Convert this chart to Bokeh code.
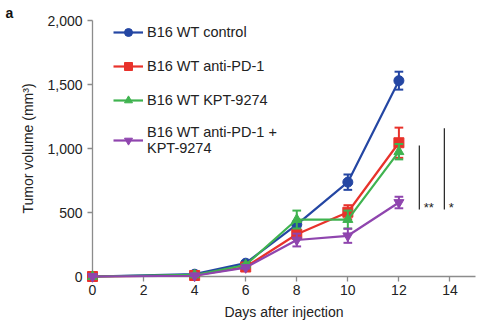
from bokeh.plotting import figure
from bokeh.models import (Range1d, Legend, LegendItem, NumeralTickFormatter,
                          FixedTicker, ColumnDataSource)
from bokeh.embed import file_html
from bokeh.resources import INLINE
from bokeh.core.properties import value

# ---- data ----
days = [0, 4, 6, 8, 10, 12]
series_names = ["B16 WT control", "B16 WT anti-PD-1", "B16 WT KPT-9274",
                "B16 WT anti-PD-1 +\nKPT-9274"]
control = [0, 18, 104, 406, 737, 1530]
control_err = [0, 5, 10, 25, 60, 70]
anti_pd1 = [0, 8, 74, 330, 502, 1045]
anti_pd1_err = [0, 3, 8, 30, 55, 118]
kpt = [0, 12, 90, 445, 445, 975]
kpt_err = [0, 4, 8, 70, 70, 60]
combo = [0, 6, 70, 285, 318, 578]
combo_err = [0, 3, 8, 50, 55, 45]

x_ticks = [0, 2, 4, 6, 8, 10, 12, 14]
y_ticks = [0, 500, 1000, 1500, 2000]

sig_x = [12.8, 13.78]
sig_y0 = [523, 523]
sig_y1 = [1023, 1159]
sig_labels = ["**", "*"]
sig_label_x = [12.97, 13.95]
sig_label_y = [540, 540]

panel_letter = "a"

colors = ["#2446a3", "#e8322b", "#3fb34f", "#8f45ae"]
markers = ["circle", "square", "triangle", "inverted_triangle"]
sizes = [10, 10, 10, 10]

FONT = "Liberation Sans"

p = figure(width=500, height=331, output_backend="svg", toolbar_location=None,
           x_range=Range1d(0, 15), y_range=Range1d(0, 2000),
           min_border_left=92, min_border_right=25, min_border_top=20,
           min_border_bottom=55, title=panel_letter)
p.title.align = "left"
p.title.offset = -87
p.title.standoff = 0
p.title.text_font = FONT
p.title.text_font_size = "14px"
p.title.text_font_style = "bold"
p.title.text_color = "#111111"
p.outline_line_color = None
p.grid.grid_line_color = None
p.background_fill_color = "white"

for ax in (p.xaxis[0], p.yaxis[0]):
    ax.axis_line_color = "#8c8c8c"
    ax.axis_line_width = 1.3
    ax.major_tick_line_color = "#8c8c8c"
    ax.major_tick_line_width = 1.3
    ax.major_tick_out = 5
    ax.major_tick_in = 0
    ax.minor_tick_line_color = None
    ax.major_label_text_font = FONT
    ax.major_label_text_font_size = "14px"
    ax.major_label_text_color = "#222222"
    ax.axis_label_text_font = FONT
    ax.axis_label_text_font_size = "14px"
    ax.axis_label_text_font_style = "normal"
    ax.axis_label_text_color = "#222222"

p.xaxis.ticker = FixedTicker(ticks=x_ticks)
p.yaxis.ticker = FixedTicker(ticks=y_ticks)
p.yaxis.formatter = NumeralTickFormatter(format="0,0")
p.xaxis.axis_label = "Days after injection"
p.yaxis.axis_label = "Tumor volume (mm³)"
p.xaxis.major_label_standoff = 3
p.yaxis.major_label_standoff = 5
p.xaxis.axis_label_standoff = 6
p.yaxis.axis_label_standoff = 8

all_vals = [control, anti_pd1, kpt, combo]
all_errs = [control_err, anti_pd1_err, kpt_err, combo_err]
items = []
for name, vals, errs, c, m, s in zip(series_names, all_vals, all_errs, colors, markers, sizes):
    lo = [v - e for v, e in zip(vals, errs)]
    hi = [v + e for v, e in zip(vals, errs)]
    src = ColumnDataSource(dict(x=days, y=vals, lo=lo, hi=hi,
                                cl=[d - 0.17 for d in days], cr=[d + 0.17 for d in days]))
    ln = p.line("x", "y", source=src, line_color=c, line_width=2.2, level="overlay")
    p.segment("x", "lo", "x", "hi", source=src, line_color=c, line_width=2, level="overlay")
    p.segment("cl", "lo", "cr", "lo", source=src, line_color=c, line_width=2, level="overlay")
    p.segment("cl", "hi", "cr", "hi", source=src, line_color=c, line_width=2, level="overlay")
    sc = p.scatter("x", "y", source=src, marker=m, size=s, fill_color=c, line_color=c,
                   level="overlay")
    items.append(LegendItem(label=name, renderers=[ln, sc]))

# significance brackets
p.segment(x0=sig_x, y0=sig_y0, x1=sig_x, y1=sig_y1, line_color="#222222", line_width=1.2)
p.text(x=sig_label_x, y=sig_label_y, text=sig_labels, text_font=value(FONT),
       text_font_size="13px", text_color="#222222", text_align="left",
       text_baseline="middle")

legend = Legend(items=items, location=(21, 120), border_line_color=None,
                background_fill_alpha=0, label_text_font=FONT,
                label_text_font_size="14.5px", label_text_color="#222222",
                glyph_width=30, glyph_height=20, label_height=20,
                spacing=14, padding=0, margin=0, label_standoff=4)
p.add_layout(legend)

open("out.html", "w").write(file_html(p, INLINE))
